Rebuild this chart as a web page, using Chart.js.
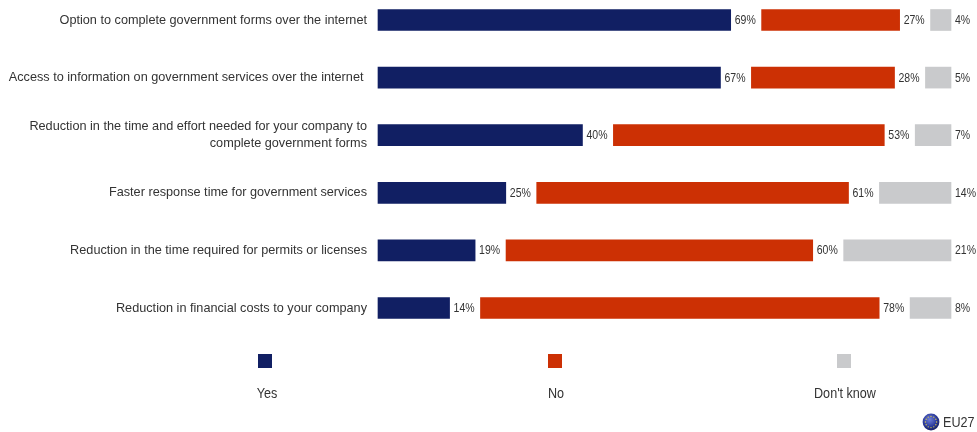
<!DOCTYPE html>
<html>
<head>
<meta charset="utf-8">
<title>Government services online</title>
<script src="https://cdn.jsdelivr.net/npm/chart.js@4/dist/chart.umd.min.js"></script>
<style>
  html, body { margin: 0; padding: 0; background: #fff; overflow: hidden; }
  #wrap { position: relative; width: 977px; height: 432px; font-family: "Liberation Sans", Arial, sans-serif; color: #333; }
  canvas { position: absolute; left: 0; top: 0; }
  .swatch { position: absolute; top: 354px; width: 14px; height: 14px; }
  .key { position: absolute; top: 385px; width: 120px; text-align: center; font-size: 14px; line-height: 16px; transform: scaleX(0.9); }
  #scope { position: absolute; left: 922px; top: 413px; font-size: 14px; line-height: 18px; }
  #scope svg { position: absolute; left: 0; top: 0; }
  #scope span { position: absolute; left: 21px; top: 0; transform: scaleX(0.9); transform-origin: left center; }
</style>
</head>
<body>
<div id="wrap">
  <canvas id="chart" width="977" height="432"></canvas>
</div>
<script>
const categories = [
  "Option to complete government forms over the internet",
  "Access to information on government services over the internet ",
  ["Reduction in the time and effort needed for your company to", "complete government forms"],
  "Faster response time for government services",
  "Reduction in the time required for permits or licenses",
  "Reduction in financial costs to your company"
];
const yesValues = [69, 67, 40, 25, 19, 14];
const noValues = [27, 28, 53, 61, 60, 78];
const dontKnowValues = [4, 5, 7, 14, 21, 8];

const seriesNames = ["Yes", "No", "Don't know"];
const seriesColors = ["#111f63", "#cc3004", "#c9cacc"];
const legendCenters = [267, 556, 845];
const swatchCenters = [265, 555, 844];

// blank stretch between the parts of a row, leaves room for the % label
const labelGap = 6.05;
const spacer = categories.map(() => labelGap);

// writes the % next to the end of each real bar, slightly condensed
const valueLabels = {
  id: "valueLabels",
  afterDatasetsDraw(chart) {
    const ctx = chart.ctx;
    chart.data.datasets.forEach((ds, i) => {
      if (ds.isSpacer) return;
      chart.getDatasetMeta(i).data.forEach((bar, j) => {
        ctx.save();
        ctx.font = "13px 'Liberation Sans', Arial, sans-serif";
        ctx.fillStyle = "#333";
        ctx.textBaseline = "middle";
        ctx.translate(bar.x + 4, bar.y + 0.5);
        ctx.scale(0.81, 1);
        ctx.fillText(ds.data[j] + "%", 0, 0);
        ctx.restore();
      });
    });
  }
};

function barSet(label, data, color) {
  return { label, data, backgroundColor: color, barThickness: 21, clip: false };
}
function gapSet(data) {
  return { label: "", data, backgroundColor: "rgba(0,0,0,0)", barThickness: 21, isSpacer: true };
}

new Chart(document.getElementById("chart"), {
  type: "bar",
  data: {
    labels: categories,
    datasets: [
      barSet(seriesNames[0], yesValues, seriesColors[0]),
      gapSet(spacer),
      barSet(seriesNames[1], noValues, seriesColors[1]),
      gapSet(spacer),
      barSet(seriesNames[2], dontKnowValues, seriesColors[2])
    ]
  },
  options: {
    indexAxis: "y",
    responsive: false,
    animation: false,
    layout: { padding: { top: 20, right: 26, bottom: 124, left: 0 } },
    plugins: { legend: { display: false }, tooltip: { enabled: false } },
    scales: {
      x: {
        stacked: true,
        min: 0,
        max: 112.1,
        display: false
      },
      y: {
        stacked: true,
        offset: false,
        grid: { display: false },
        border: { display: false },
        afterFit(scale) { scale.width = 378; },
        ticks: {
          autoSkip: false,
          padding: 3,
          color: "#333",
          font: { family: "'Liberation Sans', Arial, sans-serif", size: 12.7, lineHeight: 1.32 }
        }
      }
    }
  },
  plugins: [valueLabels]
});

// legend squares with their names underneath
const wrap = document.getElementById("wrap");
seriesNames.forEach((name, i) => {
  const box = document.createElement("div");
  box.className = "swatch";
  box.style.left = swatchCenters[i] - 7 + "px";
  box.style.background = seriesColors[i];
  wrap.appendChild(box);
  const key = document.createElement("div");
  key.className = "key";
  key.style.left = legendCenters[i] - 60 + "px";
  key.textContent = name;
  wrap.appendChild(key);
});

// EU flag globe and scope label in the corner
let stars = "";
for (let k = 0; k < 12; k++) {
  const a = k * Math.PI / 6;
  stars += `<circle cx="${9 + 5.6 * Math.cos(a)}" cy="${9 + 5.6 * Math.sin(a)}" r="0.7" fill="#d8c84a"/>`;
}
const scope = document.createElement("div");
scope.id = "scope";
scope.innerHTML = `<svg width="18" height="18" viewBox="0 0 18 18">
  <defs><radialGradient id="globe" cx="0.42" cy="0.35" r="0.7">
    <stop offset="0" stop-color="#6f7fd8"/><stop offset="0.6" stop-color="#2a3a9c"/><stop offset="1" stop-color="#141c5c"/>
  </radialGradient></defs>
  <circle cx="9" cy="9" r="8.4" fill="url(#globe)"/>${stars}</svg><span>EU27</span>`;
wrap.appendChild(scope);
</script>
</body>
</html>
